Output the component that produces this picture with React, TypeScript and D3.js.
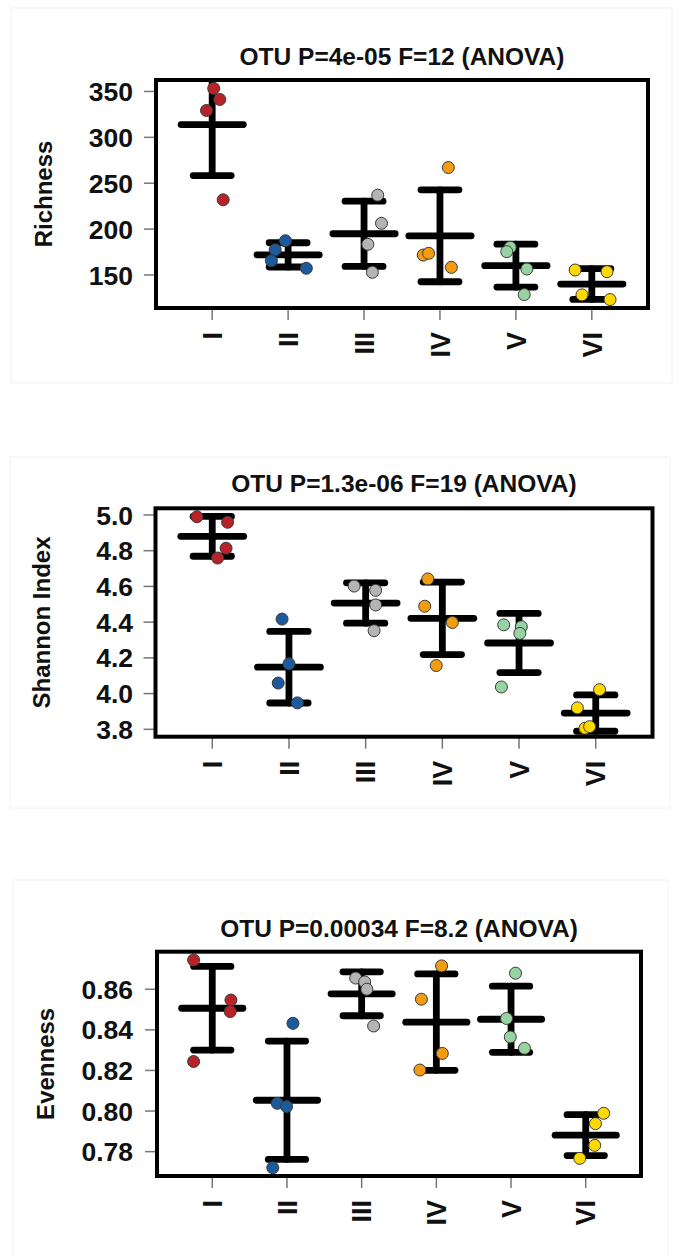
import React from 'react';
import * as d3 from 'd3';

// groups and their colours
const groups = ['I', 'II', 'III', 'IV', 'V', 'VI'];
const groupFill = ['#b8232a', '#1c5a9e', '#b4b4b4', '#f29c12', '#97d3a2', '#ffd800'];

// values, four samples per group
const richness = [
  [353.3, 341.3, 329.3, 231.9],
  [187.3, 177.5, 165.5, 157.3],
  [237.0, 206.3, 183.4, 152.9],
  [267.1, 171.7, 173.6, 158.3],
  [180.1, 175.4, 156.5, 128.6],
  [155.4, 153.6, 128.3, 123.2],
];
const richnessJitter = [
  [0.02, 0.1, -0.075, 0.145],
  [-0.035, -0.17, -0.22, 0.24],
  [0.18, 0.23, 0.05, 0.11],
  [0.11, -0.22, -0.15, 0.15],
  [-0.075, -0.12, 0.145, 0.11],
  [-0.22, 0.2, -0.13, 0.24],
];

const shannon = [
  [4.99, 4.959, 4.814, 4.759],
  [4.417, 4.167, 4.059, 3.948],
  [4.602, 4.578, 4.496, 4.352],
  [4.642, 4.489, 4.398, 4.157],
  [4.385, 4.374, 4.337, 4.037],
  [4.022, 3.92, 3.806, 3.815],
];
const shannonJitter = [
  [-0.2, 0.2, 0.18, 0.07],
  [-0.09, 0.0, -0.14, 0.11],
  [-0.15, 0.13, 0.13, 0.11],
  [-0.19, -0.23, 0.13, -0.08],
  [-0.2, 0.03, 0.01, -0.23],
  [0.05, -0.24, -0.14, -0.08],
];

const evenness = [
  [0.8744, 0.8547, 0.849, 0.8244],
  [0.8432, 0.8038, 0.8022, 0.7721],
  [0.8655, 0.8636, 0.86, 0.8419],
  [0.8715, 0.8551, 0.8284, 0.8202],
  [0.8679, 0.8456, 0.8365, 0.8309],
  [0.7989, 0.7938, 0.7831, 0.7767],
];
const evennessJitter = [
  [-0.25, 0.25, 0.24, -0.25],
  [0.08, -0.13, -0.005, -0.19],
  [-0.08, 0.04, 0.07, 0.16],
  [0.07, -0.2, 0.08, -0.22],
  [0.06, -0.06, -0.01, 0.18],
  [0.24, 0.13, 0.12, -0.08],
];

const titles = [
  'OTU P=4e-05 F=12 (ANOVA)',
  'OTU P=1.3e-06 F=19 (ANOVA)',
  'OTU P=0.00034 F=8.2 (ANOVA)',
];
const yLabels = ['Richness', 'Shannon Index', 'Evenness'];
const richnessTicks = [150, 200, 250, 300, 350];
const shannonTicks = [3.8, 4.0, 4.2, 4.4, 4.6, 4.8, 5.0];
const evennessTicks = [0.78, 0.8, 0.82, 0.84, 0.86];

const FONT = '"Liberation Sans", Arial, Helvetica, sans-serif';

const panels = [
  {
    values: richness, jitter: richnessJitter, ticks: richnessTicks, fmt: d3.format('d'),
    title: titles[0], label: yLabels[0],
    frame: [11, 8, 672, 383], left: 156, right: 648, top: 80, bottom: 308, titleY: 65, labelX: 52,
  },
  {
    values: shannon, jitter: shannonJitter, ticks: shannonTicks, fmt: d3.format('.1f'),
    title: titles[1], label: yLabels[1],
    frame: [10, 457, 670, 808], left: 155.5, right: 652.5, top: 508.3, bottom: 736.7, titleY: 492.3, labelX: 50,
  },
  {
    values: evenness, jitter: evennessJitter, ticks: evennessTicks, fmt: d3.format('.2f'),
    title: titles[2], label: yLabels[2],
    frame: [13, 880, 668, 1262], left: 157, right: 641, top: 951.7, bottom: 1176, titleY: 937.3, labelX: 54,
  },
];

function Panel({ p, idx }: { p: any; idx: number }) {
  const x = d3.scaleLinear().domain([0.26, 6.74]).range([p.left, p.right]);
  const [lo, hi] = d3.extent(p.values.flat() as number[]) as [number, number];
  const pad = (hi - lo) * 0.04;
  const y = d3.scaleLinear().domain([lo - pad, hi + pad]).range([p.bottom, p.top]);
  const clipId = `clip-${idx}`;
  const cx = (p.left + p.right) / 2;
  const cy = (p.top + p.bottom) / 2;
  const lw = 6.8;

  return (
    <g>
      <rect x={p.frame[0]} y={p.frame[1]} width={p.frame[2] - p.frame[0]} height={p.frame[3] - p.frame[1]}
        fill="none" stroke="#f2f2f2" strokeWidth={1} />
      <defs>
        <clipPath id={clipId}>
          <rect x={p.left} y={p.top} width={p.right - p.left} height={p.bottom - p.top} />
        </clipPath>
      </defs>

      <text x={cx} y={p.titleY} textAnchor="middle" fontFamily={FONT} fontWeight="bold" fontSize={24.5} fill="#111">
        {p.title}
      </text>

      {/* y axis */}
      {p.ticks.map((t: number) => (
        <g key={t}>
          <line x1={p.left - 12} x2={p.left} y1={y(t)} y2={y(t)} stroke="#777" strokeWidth={1.5} />
          <text x={133} y={y(t)} dy="0.36em" textAnchor="end" fontFamily={FONT} fontWeight="bold" fontSize={26.5} fill="#111">
            {p.fmt(t)}
          </text>
        </g>
      ))}
      <text transform={`translate(${p.labelX},${cy}) rotate(-90)`} textAnchor="middle" fontFamily={FONT}
        fontWeight="bold" fontSize={24} fill="#111">
        {p.label}
      </text>

      {/* x axis */}
      {groups.map((g, i) => (
        <g key={g}>
          <line x1={x(i + 1)} x2={x(i + 1)} y1={p.bottom} y2={p.bottom + 12} stroke="#777" strokeWidth={1.5} />
          <text transform={`translate(${x(i + 1)},${p.bottom + 24}) rotate(-90)`} dy="0.36em" textAnchor="end"
            fontFamily={FONT} fontWeight="bold" fontSize={27} fill="#111">
            {g}
          </text>
        </g>
      ))}

      <g clipPath={`url(#${clipId})`}>
        {p.values.map((vals: number[], i: number) => {
          const m = d3.mean(vals) as number;
          const sd = d3.deviation(vals) as number;
          const xc = i + 1;
          return (
            <g key={i} stroke="#000" strokeWidth={lw} strokeLinecap="round">
              <line x1={x(xc)} x2={x(xc)} y1={y(m - sd)} y2={y(m + sd)} />
              <line x1={x(xc - 0.25)} x2={x(xc + 0.25)} y1={y(m - sd)} y2={y(m - sd)} />
              <line x1={x(xc - 0.25)} x2={x(xc + 0.25)} y1={y(m + sd)} y2={y(m + sd)} />
              <line x1={x(xc - 0.41)} x2={x(xc + 0.41)} y1={y(m)} y2={y(m)} />
            </g>
          );
        })}
        {p.values.map((vals: number[], i: number) =>
          vals.map((v, j) => (
            <circle key={`${i}-${j}`} cx={x(i + 1 + p.jitter[i][j])} cy={y(v)} r={6}
              fill={groupFill[i]} stroke="#3a3a3a" strokeWidth={1} />
          ))
        )}
      </g>

      <rect x={p.left} y={p.top} width={p.right - p.left} height={p.bottom - p.top}
        fill="none" stroke="#000" strokeWidth={4} />
    </g>
  );
}

export default function App() {
  return (
    <div style={{ position: 'absolute', left: 0, top: 0 }}>
      <svg width={683} height={1257} style={{ display: 'block', background: '#fff' }}>
        {panels.map((p, i) => (
          <Panel key={i} p={p} idx={i} />
        ))}
      </svg>
    </div>
  );
}
